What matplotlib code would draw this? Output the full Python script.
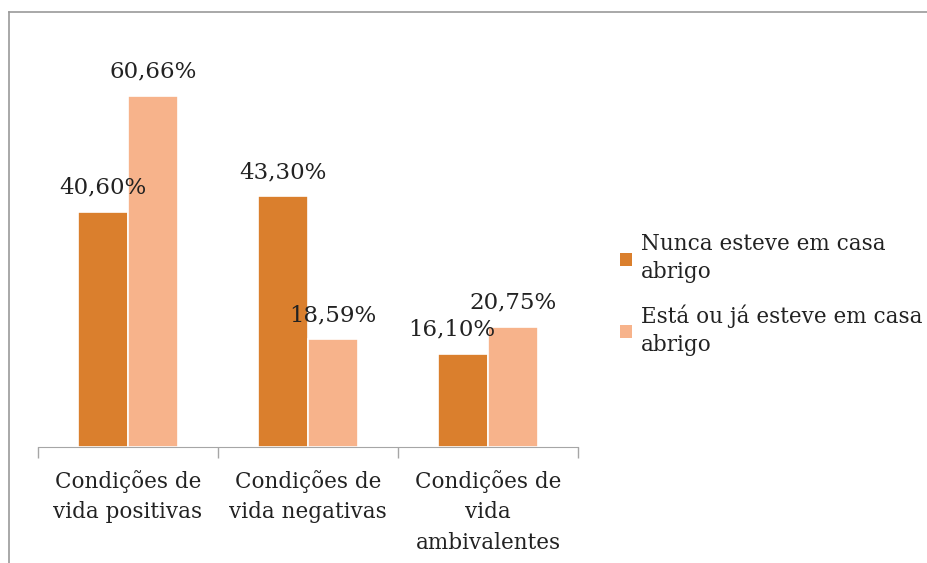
import matplotlib
matplotlib.use("Agg")
import matplotlib.pyplot as plt
import numpy as np
from matplotlib.lines import Line2D

categories = ["Condições de\nvida positivas", "Condições de\nvida negativas", "Condições de\nvida\nambivalentes"]
series_names = ["Nunca esteve em casa\nabrigo", "Está ou já esteve em casa\nabrigo"]
nunca = [40.60, 43.30, 16.10]
esta = [60.66, 18.59, 20.75]
labels_nunca = ["40,60%", "43,30%", "16,10%"]
labels_esta = ["60,66%", "18,59%", "20,75%"]

plt.rcParams['font.family'] = ['DejaVu Serif']
W, H = 927, 563
fig = plt.figure(figsize=(W/100, H/100), dpi=100)

# axes: x 38..578, y top 42..bottom 447
ax = fig.add_axes([38/W, 1-447/H, 540/W, 405/H])
x = np.arange(len(categories))
bw = 0.278
c1 = "#DA7F2D"
c2 = "#F7B38B"
b1 = ax.bar(x - bw/2, nunca, bw, color=c1, edgecolor="white", linewidth=1.2, label=series_names[0])
b2 = ax.bar(x + bw/2, esta, bw, color=c2, edgecolor="white", linewidth=1.2, label=series_names[1])

lfs = 16.5
fs = 15.5
nudge = [0, 0, -8]
for xi, v, t, dx in zip(x - bw/2, nunca, labels_nunca, nudge):
    ax.annotate(t, (xi, v), xytext=(dx, 9.5), textcoords="offset points",
                ha="center", va="bottom", fontsize=lfs, color="#222222")
for xi, v, t in zip(x + bw/2, esta, labels_esta):
    ax.annotate(t, (xi, v), xytext=(0, 9.5), textcoords="offset points",
                ha="center", va="bottom", fontsize=lfs, color="#222222")

ax.set_xlim(-0.5, 2.5)
ax.set_ylim(0, 70)
for s in ["top", "right", "left"]:
    ax.spines[s].set_visible(False)
ax.spines["bottom"].set_color("#A6A6A6")
ax.set_yticks([])
ax.set_xticks(x)
ax.set_xticklabels(categories, fontsize=fs, color="#222222", linespacing=1.5)
ax.tick_params(axis="x", which="major", length=0, pad=16.5)
ax.set_xticks([-0.5, 0.5, 1.5, 2.5], minor=True)
ax.tick_params(axis="x", which="minor", length=8, color="#A6A6A6", width=1)

leg = fig.legend(handles=[b1, b2], labels=series_names, loc="upper left",
                 bbox_to_anchor=(601/W, 1-214/H), frameon=False, fontsize=fs,
                 handlelength=0.55, handleheight=0.55, handletextpad=0.4,
                 labelspacing=1.0)
for t in leg.get_texts():
    t.set_linespacing(1.35)
    t.set_color("#222222")
for h in leg.legend_handles:
    h.set_edgecolor("none")

# border lines (top and left)
fig.add_artist(Line2D([9/W, 9/W], [0, 1-12/H], color="#9A9A9A", lw=1.2, transform=fig.transFigure))
fig.add_artist(Line2D([9/W, 1], [1-12/H, 1-12/H], color="#9A9A9A", lw=1.2, transform=fig.transFigure))

fig.savefig("out.png", dpi=100)
